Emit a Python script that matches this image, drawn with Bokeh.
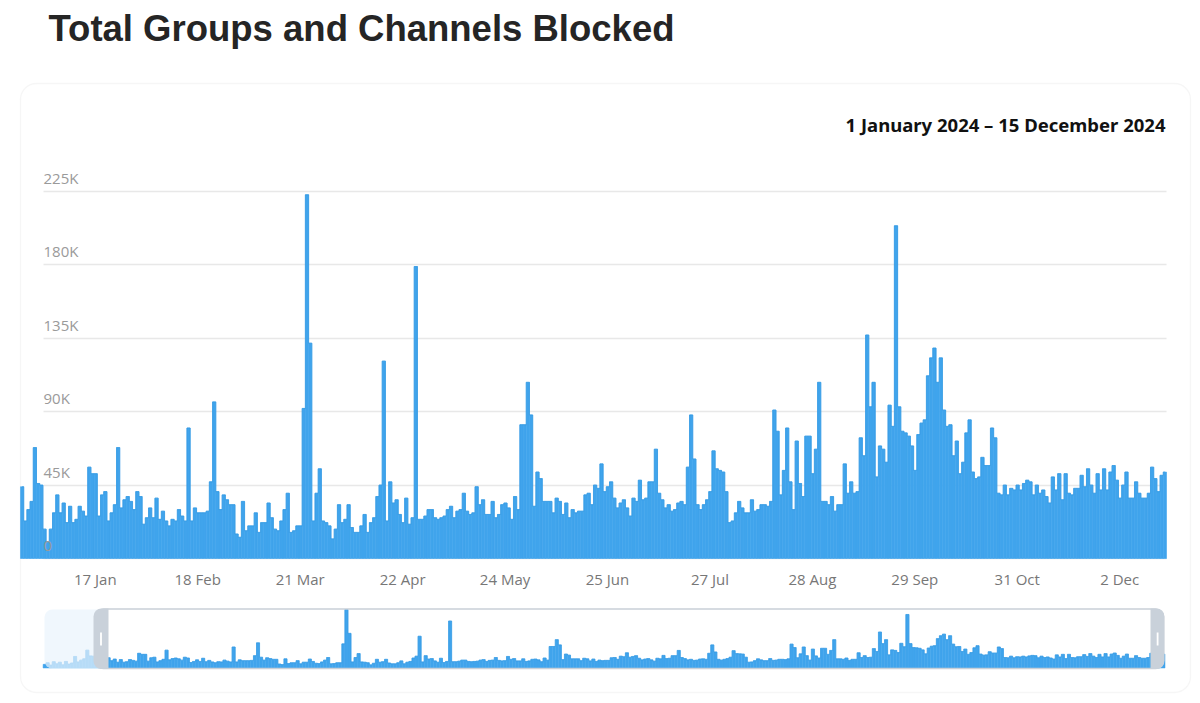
import numpy as np
import pandas as pd
from bokeh.plotting import figure
from bokeh.models import (Range1d, LinearAxis, FixedTicker, Grid, BoxAnnotation,
                          Label, ColumnDataSource, Quad)
from bokeh.embed import file_html
from bokeh.resources import INLINE

# ---------------- data (thousands of groups/channels blocked per day) ----------------
TITLE = "Total Groups and Channels Blocked"
PERIOD = "1 January 2024 \u2013 15 December 2024"

PRE_DEC_2023 = [14, 20, 11, 24, 16, 22, 12, 25, 15, 19]
JAN = [44, 23, 30, 35, 68, 46, 45, 18, 10, 18, 28, 39, 28, 34, 22, 32, 22, 24, 32, 29,
       26, 56, 52, 52, 26, 39, 41, 23, 28, 33, 68]
FEB = [31, 36, 38, 35, 30, 41, 38, 21, 25, 31, 25, 37, 24, 29, 23, 20, 24, 23, 30, 26,
       23, 80, 23, 31, 28, 28, 28, 29, 47]
MAR = [96, 41, 30, 39, 36, 33, 33, 15, 13, 35, 17, 20, 20, 28, 16, 22, 22, 34, 25, 18,
       17, 23, 30, 40, 16, 17, 20, 20, 92, 223, 132]
APR = [23, 40, 55, 23, 22, 20, 12, 18, 33, 22, 24, 33, 19, 16, 16, 20, 27, 16, 22, 25,
       38, 45, 121, 23, 47, 34, 36, 27, 22, 37]
MAY = [21, 25, 179, 24, 24, 26, 30, 30, 25, 24, 25, 26, 30, 32, 25, 29, 30, 40, 29, 27,
       28, 44, 33, 36, 27, 27, 35, 25, 27, 33, 34]
JUN = [31, 24, 38, 30, 82, 82, 108, 88, 32, 53, 49, 35, 35, 35, 28, 37, 35, 27, 34, 25,
       30, 28, 29, 29, 39, 40, 33, 45, 43, 58]
JUL = [41, 44, 47, 37, 31, 34, 36, 31, 26, 37, 35, 48, 36, 37, 47, 47, 67, 40, 36, 31,
       33, 29, 30, 34, 35, 33, 56, 88, 61, 33, 30]
AUG = [33, 36, 41, 66, 55, 54, 53, 41, 22, 23, 28, 35, 31, 28, 28, 36, 29, 30, 33, 33,
       32, 35, 91, 78, 39, 54, 80, 47, 30, 72, 46]
SEP = [38, 75, 75, 52, 67, 108, 35, 35, 33, 38, 29, 33, 33, 58, 40, 47, 40, 41, 74, 63,
       137, 93, 108, 50, 69, 67, 59, 94, 81, 204]
OCT = [93, 78, 77, 75, 69, 54, 76, 83, 85, 112, 123, 129, 108, 123, 91, 81, 82, 63, 72, 52,
       59, 77, 85, 53, 49, 50, 62, 57, 57, 80, 74]
NOV = [40, 39, 45, 39, 43, 42, 45, 42, 46, 48, 47, 39, 45, 40, 42, 38, 34, 50, 42, 52,
       36, 52, 40, 39, 43, 43, 51, 44, 55, 45]
DEC = [40, 52, 42, 55, 42, 53, 57, 48, 37, 45, 53, 37, 37, 47, 40, 37, 37, 40, 56, 49,
       41, 51, 53]

Y_TICKS = [0, 45000, 90000, 135000, 180000, 225000]
Y_TICK_LABELS = ["0", "45K", "90K", "135K", "180K", "225K"]
X_TICK_DATES = ["2024-01-17", "2024-02-18", "2024-03-21", "2024-04-22", "2024-05-24",
                "2024-06-25", "2024-07-27", "2024-08-28", "2024-09-29", "2024-10-31",
                "2024-12-02"]
X_TICK_LABELS = ["17 Jan", "18 Feb", "21 Mar", "22 Apr", "24 May", "25 Jun", "27 Jul",
                 "28 Aug", "29 Sep", "31 Oct", "2 Dec"]

# ---------------- assemble ----------------
main_k = JAN + FEB + MAR + APR + MAY + JUN + JUL + AUG + SEP + OCT + NOV + DEC
all_k = PRE_DEC_2023 + main_k
DAY = 86400000.0


def to_ms(d):
    return pd.Timestamp(d).value // 10**6


jan1 = to_ms("2024-01-01")
all_dates = pd.date_range("2023-12-22", periods=len(all_k), freq="D")
all_ms = np.array([to_ms(d) for d in all_dates], dtype=float)
all_vals = np.array(all_k, dtype=float) * 1000
main_ms = all_ms[len(PRE_DEC_2023):]
main_vals = all_vals[len(PRE_DEC_2023):]

# ---------------- layout (page pixels; the canvas is the whole page) ----------------
W, H = 1200, 700

MAIN_DAY0_PX = 21.6
MAIN_PXD = (1166 - 20) / len(main_k)
MAIN_ZERO_PY, MAIN_TOP_PY = 558.0, 191.0
MAIN_SCALE = (MAIN_ZERO_PY - MAIN_TOP_PY) / 225000.0

NAV_DAY0_PX = 74.6
NAV_PXD = (1163 - 74.6) / (len(main_k) - 1)
NAV_ZERO_PY, NAV_TOP_PY = 667.5, 609.0
NAV_SCALE = (NAV_ZERO_PY - NAV_TOP_PY) / all_vals.max()


def mx(px):
    return jan1 + (px - MAIN_DAY0_PX) / MAIN_PXD * DAY


def my(py):
    return (MAIN_ZERO_PY - py) / MAIN_SCALE


def nx(px):
    return jan1 + (px - NAV_DAY0_PX) / NAV_PXD * DAY


def ny(py):
    return (NAV_ZERO_PY - py) / NAV_SCALE


BAR = "#40a4ec"
EDGE = "#3399e3"

p = figure(width=W, height=H, title=None,
           x_range=Range1d(mx(0), mx(W)),
           y_range=Range1d(my(H), my(0)),
           x_axis_location=None, y_axis_location=None,
           output_backend="svg", toolbar_location=None,
           min_border_left=0, min_border_right=0, min_border_top=0, min_border_bottom=0,
           background_fill_color="white", border_fill_color="white",
           outline_line_color=None)
p.center = [r for r in p.center if not isinstance(r, Grid)]

p.extra_x_ranges = {
    "nav": Range1d(nx(0), nx(W)),
    "xlab": Range1d(mx(0 - 22), mx(W - 22)),
}
p.extra_y_ranges = {
    "nav": Range1d(ny(H), ny(0)),
    "ylab": Range1d(my(H + 13.5), my(0 + 13.5)),
}

# card
card = BoxAnnotation(left=mx(20), right=mx(1190), top=my(83), bottom=my(692),
                     fill_color=None, fill_alpha=0, line_color="#e1e1e1", line_width=1.3,
                     level="underlay")
if "border_radius" in BoxAnnotation.properties():
    card.border_radius = 16
p.add_layout(card)

# grid
grid = Grid(dimension=1, ticker=FixedTicker(ticks=Y_TICKS),
            grid_line_color="#e8e8e8", grid_line_width=1.5)
if "cross_bounds" in Grid.properties():
    grid.cross_bounds = (mx(43), mx(1166))
p.add_layout(grid, "center")

# main bars
src_main = ColumnDataSource(dict(x=main_ms, top=main_vals))
p.vbar(x="x", top="top", bottom=0, width=DAY, source=src_main,
       fill_color=BAR, line_color=BAR, line_width=0.6)
p.step(x="x", y="top", source=src_main, mode="center", line_color=EDGE, line_width=0.7)

# navigator bars
src_all = ColumnDataSource(dict(x=all_ms, top=all_vals))
p.vbar(x="x", top="top", bottom=0, width=DAY, source=src_all,
       x_range_name="nav", y_range_name="nav", fill_color=BAR, line_color=BAR,
       line_width=0.5)
p.step(x="x", y="top", source=src_all, mode="center",
       x_range_name="nav", y_range_name="nav", line_color=EDGE, line_width=0.6)

HAS_BR = "border_radius" in Quad.properties()


def deco(l, r, t, b, radius=None, **kw):
    if HAS_BR and radius is not None:
        kw["border_radius"] = radius
    return p.quad(left=[mx(l)], right=[mx(r)], top=[my(t)], bottom=[my(b)], **kw)


# navigator window
deco(44, 100, 609, 668, radius=(8, 0, 0, 8), fill_color="#eaf3fc", fill_alpha=0.7,
     line_color=None)
deco(95, 1163, 608.5, 668, radius=8, fill_color=None, line_color="#c9d0d8", line_width=1.5)
deco(93, 108, 608, 668.5, radius=(8, 0, 0, 8), fill_color="#c9d1da", line_color=None)
deco(1150, 1164, 608, 668.5, radius=(0, 8, 8, 0), fill_color="#c9d1da", line_color=None)
deco(99.6, 101.4, 632, 645, fill_color="white", line_color=None)
deco(1156.2, 1158, 632, 645, fill_color="white", line_color=None)

# title and period label
p.add_layout(Label(x=mx(48), y=my(28), text=TITLE, text_align="left",
                   text_baseline="middle", text_font="Liberation Sans",
                   text_font_style="bold", text_font_size="36.5px", text_color="#252525"))
p.add_layout(Label(x=mx(1165), y=my(124), text=PERIOD, text_align="right",
                   text_baseline="middle", text_font="Noto Sans", text_font_style="bold",
                   text_font_size="18.5px", text_color="#111111"))

# axes
x_tick_ms = [int(to_ms(d)) for d in X_TICK_DATES]
xax = LinearAxis(x_range_name="xlab", ticker=FixedTicker(ticks=x_tick_ms),
                 major_label_overrides=dict(zip(x_tick_ms, X_TICK_LABELS)),
                 fixed_location=0, axis_line_color=None, major_tick_line_color=None,
                 minor_tick_line_color=None, major_tick_out=0, major_tick_in=0,
                 major_label_standoff=10, major_label_text_font="Open Sans",
                 major_label_text_font_size="15px", major_label_text_color="#777777")
p.add_layout(xax, "below")

yax = LinearAxis(y_range_name="ylab", ticker=FixedTicker(ticks=Y_TICKS),
                 major_label_overrides=dict(zip(Y_TICKS, Y_TICK_LABELS)),
                 fixed_location=mx(43), axis_line_color=None, major_tick_line_color=None,
                 minor_tick_line_color=None, major_tick_out=0, major_tick_in=0,
                 major_label_standoff=0, major_label_text_font="Open Sans",
                 major_label_text_font_size="15px", major_label_text_color="#9a9a9a")
p.add_layout(yax, "right")

open("out.html", "w").write(file_html(p, INLINE))
